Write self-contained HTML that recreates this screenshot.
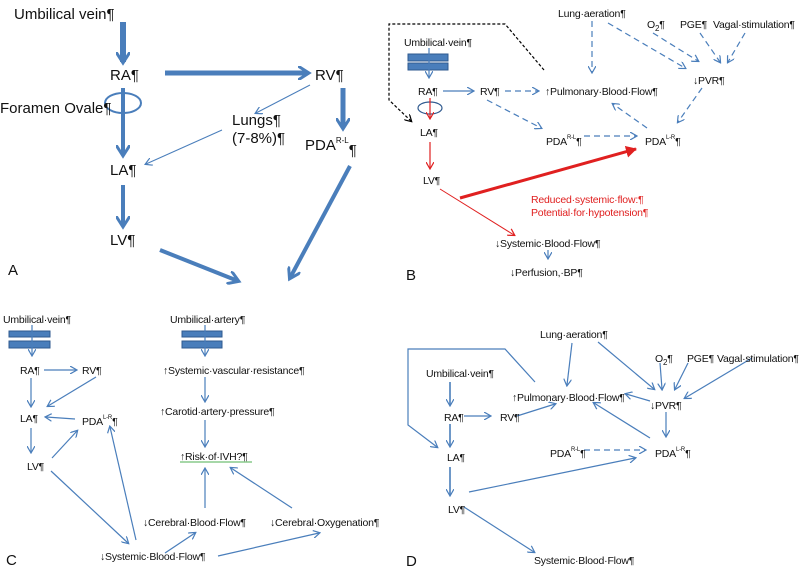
<!DOCTYPE html>
<html><head><meta charset="utf-8"><style>
html,body{margin:0;padding:0;background:#fff;}
svg{display:block;font-family:"Liberation Sans",sans-serif;}
.s{font-size:10.5px;fill:#111;letter-spacing:-0.2px}
.a{font-size:15px;fill:#111}
</style></head><body>
<svg width="800" height="573" viewBox="0 0 800 573" xmlns="http://www.w3.org/2000/svg">
<defs>
<marker id="mb" markerWidth="8" markerHeight="8" refX="6" refY="4" orient="auto" markerUnits="userSpaceOnUse"><path d="M0,0 L7,4 L0,8" fill="none" stroke="#4a7ebb" stroke-width="1.2"/></marker>
<marker id="mB" markerWidth="14" markerHeight="14" refX="10" refY="7" orient="auto" markerUnits="userSpaceOnUse"><path d="M0,0 L11,7 L0,14" fill="none" stroke="#4a7ebb" stroke-width="3"/></marker>
<marker id="mr" markerWidth="8" markerHeight="8" refX="6" refY="4" orient="auto" markerUnits="userSpaceOnUse"><path d="M0,0 L7,4 L0,8" fill="none" stroke="#e02020" stroke-width="1.2"/></marker>
<marker id="mR" markerWidth="12" markerHeight="12" refX="10" refY="6" orient="auto" markerUnits="userSpaceOnUse"><path d="M0,0 L11,6 L0,12 Z" fill="#e02020"/></marker>
<marker id="mk" markerWidth="8" markerHeight="8" refX="6" refY="4" orient="auto" markerUnits="userSpaceOnUse"><path d="M0,0 L7,4 L0,8" fill="none" stroke="#000" stroke-width="1.2"/></marker>
</defs>

<!-- PANEL A -->
<g stroke="#4a7ebb" fill="none">
<line x1="123" y1="22" x2="123" y2="62" stroke-width="6" marker-end="url(#mB)"/>
<line x1="165" y1="73" x2="308" y2="73" stroke-width="5" marker-end="url(#mB)"/>
<line x1="343" y1="88" x2="343" y2="128" stroke-width="5" marker-end="url(#mB)"/>
<line x1="123" y1="88" x2="123" y2="155" stroke-width="4" marker-end="url(#mB)"/>
<ellipse cx="123" cy="103" rx="18" ry="10" stroke-width="2"/>
<line x1="310" y1="85" x2="256" y2="113" stroke-width="1" marker-end="url(#mb)"/>
<line x1="222" y1="130" x2="146" y2="164" stroke-width="1" marker-end="url(#mb)"/>
<line x1="123" y1="185" x2="123" y2="226" stroke-width="4" marker-end="url(#mB)"/>
<line x1="160" y1="250" x2="238" y2="281" stroke-width="4" marker-end="url(#mB)"/>
<line x1="350" y1="166" x2="290" y2="278" stroke-width="4" marker-end="url(#mB)"/>
</g>
<text class="a" x="14" y="19">Umbilical vein¶</text>
<text class="a" x="110" y="80">RA¶</text>
<text class="a" x="315" y="80">RV¶</text>
<text class="a" x="0" y="113">Foramen Ovale¶</text>
<text class="a" x="232" y="125">Lungs¶</text>
<text class="a" x="232" y="143">(7-8%)¶</text>
<text class="a" x="110" y="175">LA¶</text>
<text class="a" x="305" y="150">PDA<tspan font-size="8" dy="-7">R-L</tspan><tspan dy="12">¶</tspan></text>
<text class="a" x="110" y="245">LV¶</text>
<text class="a" x="8" y="275">A</text>

<!-- PANEL B -->
<rect x="408" y="54" width="40" height="7" fill="#4a7ebb" stroke="#2f5a8f"/>
<rect x="408" y="63" width="40" height="7" fill="#4a7ebb" stroke="#2f5a8f"/>
<g stroke="#4a7ebb" fill="none" stroke-width="1.2">
<line x1="429" y1="48" x2="429" y2="77" marker-end="url(#mb)"/>
<line x1="443" y1="91" x2="473" y2="91" marker-end="url(#mb)"/>
<g stroke-dasharray="6,4">
<line x1="505" y1="91" x2="538" y2="91" marker-end="url(#mb)"/>
<line x1="487" y1="100" x2="541" y2="128" marker-end="url(#mb)"/>
<line x1="584" y1="136" x2="636" y2="136" marker-end="url(#mb)"/>
<line x1="592" y1="21" x2="592" y2="72" marker-end="url(#mb)"/>
<line x1="608" y1="23" x2="685" y2="68" marker-end="url(#mb)"/>
<line x1="653" y1="33" x2="698" y2="61" marker-end="url(#mb)"/>
<line x1="700" y1="33" x2="720" y2="62" marker-end="url(#mb)"/>
<line x1="745" y1="33" x2="728" y2="62" marker-end="url(#mb)"/>
<line x1="702" y1="88" x2="678" y2="122" marker-end="url(#mb)"/>
<line x1="647" y1="128" x2="613" y2="104" marker-end="url(#mb)"/>
</g>
<line x1="548" y1="250" x2="548" y2="258" marker-end="url(#mb)"/>
<ellipse cx="430" cy="108" rx="12" ry="6" stroke="#2f5a8f"/>
</g>
<g stroke="#e02020" fill="none">
<line x1="430" y1="98" x2="430" y2="118" stroke-width="1.2" marker-end="url(#mr)"/>
<line x1="430" y1="142" x2="430" y2="168" stroke-width="1.2" marker-end="url(#mr)"/>
<line x1="440" y1="189" x2="514" y2="235" stroke-width="1" marker-end="url(#mr)"/>
<line x1="460" y1="198" x2="636" y2="149" stroke-width="3" marker-end="url(#mR)"/>
</g>
<polyline points="544,70 505,24 389,24 389,100 411,121" fill="none" stroke="#000" stroke-width="1.2" stroke-dasharray="3,2" marker-end="url(#mk)"/>
<text class="s" x="404" y="46">Umbilical·vein¶</text>
<text class="s" x="418" y="95">RA¶</text>
<text class="s" x="480" y="95">RV¶</text>
<text class="s" x="545" y="95">↑Pulmonary·Blood·Flow¶</text>
<text class="s" x="558" y="17">Lung·aeration¶</text>
<text class="s" x="647" y="28">O<tspan font-size="8" dy="3">2</tspan><tspan dy="-3">¶</tspan></text>
<text class="s" x="680" y="28">PGE¶</text>
<text class="s" x="713" y="28">Vagal·stimulation¶</text>
<text class="s" x="693" y="84">↓PVR¶</text>
<text class="s" x="420" y="136">LA¶</text>
<text class="s" x="546" y="145">PDA<tspan font-size="6" dy="-6">R-L</tspan><tspan dy="6">¶</tspan></text>
<text class="s" x="645" y="145">PDA<tspan font-size="6" dy="-6">L-R</tspan><tspan dy="6">¶</tspan></text>
<text class="s" x="423" y="184">LV¶</text>
<text class="s" x="531" y="203" style="fill:#e02020">Reduced·systemic·flow:¶</text>
<text class="s" x="531" y="216" style="fill:#e02020">Potential·for·hypotension¶</text>
<text class="s" x="495" y="247">↓Systemic·Blood·Flow¶</text>
<text class="s" x="510" y="276">↓Perfusion,·BP¶</text>
<text class="a" x="406" y="280">B</text>

<!-- PANEL C -->
<rect x="9" y="331" width="41" height="6" fill="#4a7ebb" stroke="#2f5a8f"/>
<rect x="9" y="341" width="41" height="7" fill="#4a7ebb" stroke="#2f5a8f"/>
<rect x="182" y="331" width="40" height="6" fill="#4a7ebb" stroke="#2f5a8f"/>
<rect x="182" y="341" width="40" height="7" fill="#4a7ebb" stroke="#2f5a8f"/>
<g stroke="#4a7ebb" fill="none" stroke-width="1.2">
<line x1="32" y1="325" x2="32" y2="355" marker-end="url(#mb)"/>
<line x1="205" y1="325" x2="205" y2="355" marker-end="url(#mb)"/>
<line x1="44" y1="370" x2="76" y2="370" marker-end="url(#mb)"/>
<line x1="31" y1="378" x2="31" y2="406" marker-end="url(#mb)"/>
<line x1="96" y1="377" x2="48" y2="406" marker-end="url(#mb)"/>
<line x1="75" y1="419" x2="46" y2="417" marker-end="url(#mb)"/>
<line x1="31" y1="428" x2="31" y2="452" marker-end="url(#mb)"/>
<line x1="52" y1="458" x2="77" y2="431" marker-end="url(#mb)"/>
<line x1="51" y1="471" x2="128" y2="543" marker-end="url(#mb)"/>
<line x1="136" y1="540" x2="110" y2="427" marker-end="url(#mb)"/>
<line x1="205" y1="377" x2="205" y2="401" marker-end="url(#mb)"/>
<line x1="205" y1="420" x2="205" y2="446" marker-end="url(#mb)"/>
<line x1="205" y1="508" x2="205" y2="469" marker-end="url(#mb)"/>
<line x1="292" y1="508" x2="231" y2="468" marker-end="url(#mb)"/>
<line x1="165" y1="553" x2="195" y2="533" marker-end="url(#mb)"/>
<line x1="218" y1="556" x2="319" y2="533" marker-end="url(#mb)"/>
</g>
<line x1="180" y1="462" x2="252" y2="462" stroke="#4caf50" stroke-width="1"/>
<text class="s" x="3" y="323">Umbilical·vein¶</text>
<text class="s" x="170" y="323">Umbilical·artery¶</text>
<text class="s" x="20" y="374">RA¶</text>
<text class="s" x="82" y="374">RV¶</text>
<text class="s" x="20" y="422">LA¶</text>
<text class="s" x="82" y="425">PDA<tspan font-size="6" dy="-6">L-R</tspan><tspan dy="6">¶</tspan></text>
<text class="s" x="27" y="470">LV¶</text>
<text class="s" x="163" y="374">↑Systemic·vascular·resistance¶</text>
<text class="s" x="160" y="415">↑Carotid·artery·pressure¶</text>
<text class="s" x="180" y="460">↑Risk·of·IVH?¶</text>
<text class="s" x="143" y="526">↓Cerebral·Blood·Flow¶</text>
<text class="s" x="270" y="526">↓Cerebral·Oxygenation¶</text>
<text class="s" x="100" y="560">↓Systemic·Blood·Flow¶</text>
<text class="a" x="6" y="565">C</text>

<!-- PANEL D -->
<g stroke="#4a7ebb" fill="none" stroke-width="1.2">
<polyline points="535,382 505,349 408,349 408,425 437,447" marker-end="url(#mb)"/>
<line x1="450" y1="382" x2="450" y2="405" stroke-width="1.6" marker-end="url(#mb)"/>
<line x1="464" y1="416" x2="490" y2="416" marker-end="url(#mb)"/>
<line x1="517" y1="416" x2="555" y2="404" marker-end="url(#mb)"/>
<line x1="450" y1="424" x2="450" y2="446" stroke-width="1.6" marker-end="url(#mb)"/>
<line x1="450" y1="467" x2="450" y2="495" stroke-width="1.6" marker-end="url(#mb)"/>
<line x1="572" y1="343" x2="567" y2="385" marker-end="url(#mb)"/>
<line x1="598" y1="342" x2="654" y2="389" marker-end="url(#mb)"/>
<line x1="660" y1="363" x2="662" y2="389" marker-end="url(#mb)"/>
<line x1="688" y1="363" x2="675" y2="389" marker-end="url(#mb)"/>
<line x1="752" y1="358" x2="685" y2="398" marker-end="url(#mb)"/>
<line x1="650" y1="401" x2="626" y2="394" marker-end="url(#mb)"/>
<line x1="666" y1="412" x2="666" y2="436" marker-end="url(#mb)"/>
<line x1="650" y1="438" x2="594" y2="403" marker-end="url(#mb)"/>
<line x1="469" y1="492" x2="635" y2="458" marker-end="url(#mb)"/>
<line x1="464" y1="507" x2="534" y2="552" marker-end="url(#mb)"/>
<line x1="584" y1="450" x2="645" y2="450" stroke-dasharray="6,4" marker-end="url(#mb)"/>
</g>
<text class="s" x="540" y="338">Lung·aeration¶</text>
<text class="s" x="655" y="362">O<tspan font-size="8" dy="3">2</tspan><tspan dy="-3">¶</tspan></text>
<text class="s" x="687" y="362">PGE¶</text>
<text class="s" x="717" y="362">Vagal·stimulation¶</text>
<text class="s" x="426" y="377">Umbilical·vein¶</text>
<text class="s" x="512" y="401">↑Pulmonary·Blood·Flow¶</text>
<text class="s" x="650" y="409">↓PVR¶</text>
<text class="s" x="444" y="421">RA¶</text>
<text class="s" x="500" y="421">RV¶</text>
<text class="s" x="447" y="461">LA¶</text>
<text class="s" x="550" y="457">PDA<tspan font-size="6" dy="-6">R-L</tspan><tspan dy="6">¶</tspan></text>
<text class="s" x="655" y="457">PDA<tspan font-size="6" dy="-6">L-R</tspan><tspan dy="6">¶</tspan></text>
<text class="s" x="448" y="513">LV¶</text>
<text class="s" x="534" y="564">Systemic·Blood·Flow¶</text>
<text class="a" x="406" y="566">D</text>
</svg>
</body></html>
